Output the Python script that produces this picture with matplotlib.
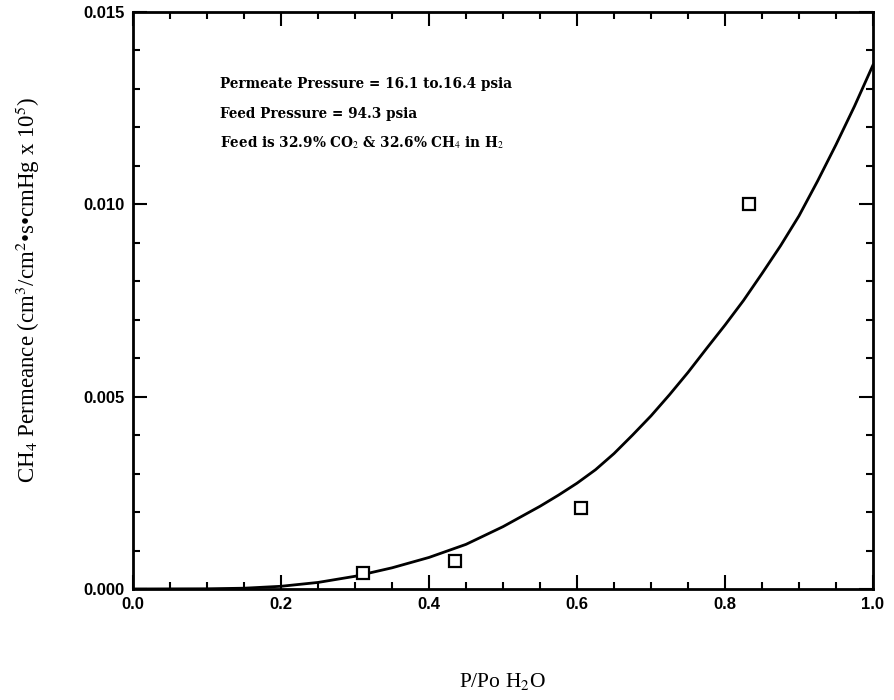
import numpy as np
import matplotlib
matplotlib.use("Agg")
import matplotlib.pyplot as plt
from matplotlib.ticker import MultipleLocator

# measured points (open squares)
pp_h2o = [0.311, 0.435, 0.605, 0.832]
permeance = [0.00042, 0.00073, 0.0021, 0.0100]

# fitted curve
curve_x = [0.0, 0.10, 0.15, 0.20, 0.25, 0.30, 0.35, 0.40, 0.45, 0.50, 0.55,
           0.575, 0.60, 0.625, 0.65, 0.675, 0.70, 0.725, 0.75, 0.775, 0.80,
           0.825, 0.85, 0.875, 0.90, 0.925, 0.95, 0.975, 1.0]
curve_y = [0.0, 0.000005, 0.00002, 0.00007, 0.00017, 0.00033, 0.00055, 0.00082,
           0.00116, 0.00162, 0.00215, 0.00244, 0.00275, 0.00310, 0.00352,
           0.00400, 0.00450, 0.00505, 0.00563, 0.00625, 0.00686, 0.00750,
           0.00820, 0.00892, 0.00970, 0.01060, 0.01155, 0.01255, 0.01362]

notes = ["Permeate Pressure = 16.1 to.16.4 psia",
         "Feed Pressure = 94.3 psia",
         "Feed is 32.9% CO$_2$ & 32.6% CH$_4$ in H$_2$"]

plt.rcParams['mathtext.fontset'] = 'stix'

fig = plt.figure(figsize=(8.94, 7), dpi=100)
ax = fig.add_axes([0.1488, 0.1586, 0.8277, 0.8243])

ax.plot(curve_x, curve_y, color="black", lw=2)
ax.plot(pp_h2o, permeance, ls="none", marker="s", ms=8, mfc="white",
        mec="black", mew=1.6)

ax.set_xlim(0, 1.0)
ax.set_ylim(0, 0.015)
ax.xaxis.set_major_locator(MultipleLocator(0.2))
ax.xaxis.set_minor_locator(MultipleLocator(0.05))
ax.yaxis.set_major_locator(MultipleLocator(0.005))
ax.yaxis.set_minor_locator(MultipleLocator(0.001))
ax.xaxis.set_major_formatter(plt.FormatStrFormatter("%.1f"))
ax.yaxis.set_major_formatter(plt.FormatStrFormatter("%.3f"))
ax.tick_params(which="both", direction="in", top=True, right=True, width=1.5)
ax.tick_params(which="major", length=10, pad=6)
ax.tick_params(which="minor", length=5)
for lab in ax.get_xticklabels() + ax.get_yticklabels():
    lab.set_fontfamily("Liberation Sans")
    lab.set_fontweight("bold")
    lab.set_fontsize(12)
for sp in ax.spines.values():
    sp.set_linewidth(2)

for i, t in enumerate(notes):
    ax.text(0.118, 0.875 - i * 0.051, t, transform=ax.transAxes,
            fontsize=9.8, fontweight="bold", family="DejaVu Serif",
            va="center", ha="left")

fig.text(0.031, 0.586, "CH$_4$ Permeance (cm$^3$/cm$^2$•s•cmHg x 10$^5$)",
         rotation=90, ha="center", va="center", fontsize=16.5,
         family="Liberation Serif")
fig.text(0.562, 0.026, "P/Po H$_2$O", ha="center", va="center",
         fontsize=15.5, family="Liberation Serif")

fig.savefig("out.png", dpi=100)
